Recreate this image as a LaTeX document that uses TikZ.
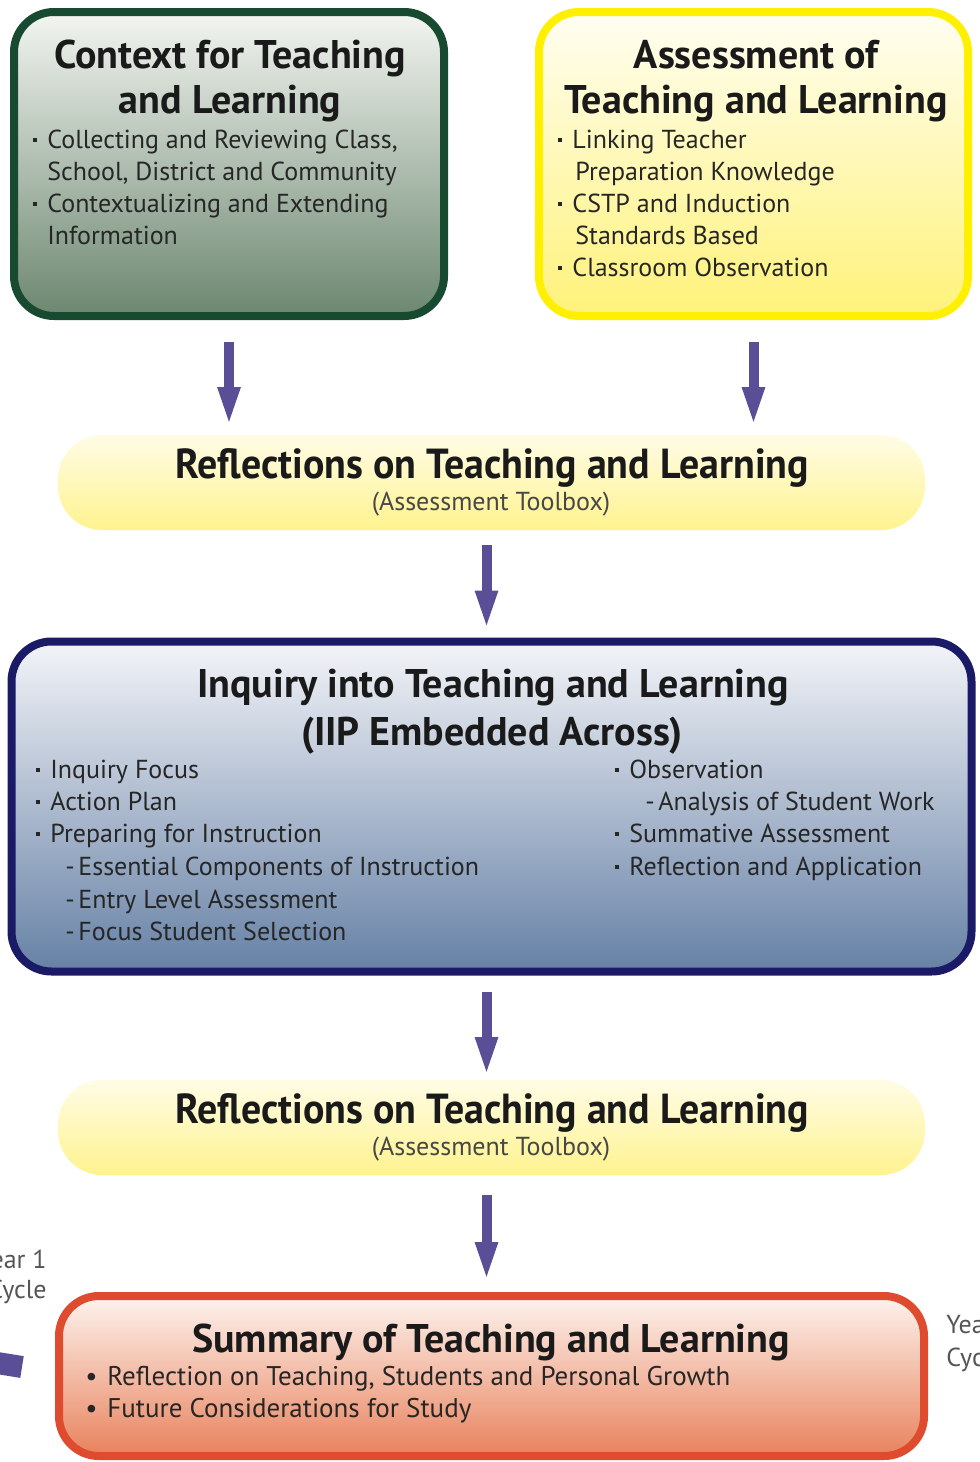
\documentclass[tikz,border=0pt]{standalone}
\usepackage{fontspec}
\setmainfont{PT Sans}
\newfontfamily\condfont{PT Sans}[FakeStretch=0.95]
\usetikzlibrary{arrows.meta}

\definecolor{ctxborder}{HTML}{174A30}
\definecolor{ctxtop}{HTML}{F3F5F1}
\definecolor{ctxbot}{HTML}{6C8770}
\definecolor{asmborder}{HTML}{FFEF00}
\definecolor{asmtop}{HTML}{FFFEF2}
\definecolor{asmbot}{HTML}{FFF27A}
\definecolor{refltop}{HTML}{FFFCE6}
\definecolor{reflbot}{HTML}{FFF38F}
\definecolor{inqborder}{HTML}{1B1A66}
\definecolor{inqtop}{HTML}{F3F4F8}
\definecolor{inqbot}{HTML}{6681A5}
\definecolor{sumborder}{HTML}{DE4B2F}
\definecolor{sumtop}{HTML}{FDF3EE}
\definecolor{sumbot}{HTML}{E8825C}
\definecolor{flowpurple}{HTML}{5A4E96}
\definecolor{titlegray}{HTML}{1A1A1A}
\definecolor{itemgray}{HTML}{262626}
\definecolor{yeargray}{HTML}{555555}

\newcommand{\bul}{\makebox[7pt][l]{\raisebox{0.25em}{\rule{1.7pt}{1.7pt}}}}
\newcommand{\dashb}{\makebox[6.5pt][l]{-}}
\newcommand{\rbul}{\makebox[11pt][l]{\textbullet}}

\tikzset{
  box/.style={rounded corners=20pt, line width=4pt, inner sep=0pt, outer sep=0pt},
  reflbox/.style={rounded corners=22pt, minimum width=433.5pt, minimum height=47.5pt,
    top color=refltop, bottom color=reflbot, inner sep=0pt, outer sep=0pt},
  flow/.style={draw=flowpurple, line width=5pt, -{Triangle[width=10pt,length=20pt]}},
  title/.style={anchor=base, inner sep=0pt, text=titlegray,
    font=\fontsize{20}{24}\selectfont\bfseries},
  refltitle/.style={anchor=base, inner sep=0pt, text=titlegray,
    font=\fontsize{21}{24}\selectfont\condfont\bfseries},
  reflsub/.style={anchor=base, inner sep=0pt, text=itemgray!85,
    font=\fontsize{13}{15}\selectfont},
  item/.style={anchor=base west, inner sep=0pt, text=itemgray,
    font=\fontsize{13}{15}\selectfont},
  yearlbl/.style={inner sep=0pt, text=yeargray, font=\fontsize{13}{15}\selectfont}
}

\begin{document}
\begin{tikzpicture}[x=0.5pt,y=-0.5pt]
  \useasboundingbox (0,0) rectangle (980,1462);
  \clip (0,0) rectangle (980,1462);

  % top row
  \node[box, draw=ctxborder, top color=ctxtop, bottom color=ctxbot,
    minimum width=215pt, minimum height=152pt] (context) at (229,164) {};
  \node[title] (ctxT1) at (230,68) {Context for Teaching};
  \node[title] (ctxT2) at (230,113) {and Learning};
  \node[item] (ctxA) at (33,148) {\bul Collecting and Reviewing Class,};
  \node[item] (ctxB) at (47,180) {School, District and Community};
  \node[item] (ctxC) at (33,212) {\bul Contextualizing and Extending};
  \node[item] (ctxD) at (47,244) {Information};

  \node[box, draw=asmborder, top color=asmtop, bottom color=asmbot,
    minimum width=214.5pt, minimum height=152pt] (assess) at (753.5,164) {};
  \node[title] (asmT1) at (756,68) {Assessment of};
  \node[title] (asmT2) at (756,113) {Teaching and Learning};
  \node[item] (asmA) at (558,148) {\bul Linking Teacher};
  \node[item] (asmB) at (575,180) {Preparation Knowledge};
  \node[item] (asmC) at (558,212) {\bul CSTP and Induction};
  \node[item] (asmD) at (575,244) {Standards Based};
  \node[item] (asmE) at (558,276) {\bul Classroom Observation};

  % first reflection
  \node[reflbox] (refl1) at (491.5,482.5) {};
  \node[refltitle] (refl1T) at (492,478) {Reflections on Teaching and Learning};
  \node[reflsub] (refl1S) at (491,510) {(Assessment Toolbox)};

  % inquiry
  \node[box, draw=inqborder, top color=inqtop, bottom color=inqbot,
    minimum width=480pt, minimum height=165pt] (inquiry) at (491.5,806.5) {};
  \node[title] (inqT1) at (493,697) {Inquiry into Teaching and Learning};
  \node[title] (inqT2) at (492,745) {(IIP Embedded Across)};
  \node[item] (inqA) at (36,778) {\bul Inquiry Focus};
  \node[item] (inqB) at (36,810) {\bul Action Plan};
  \node[item] (inqC) at (36,842) {\bul Preparing for Instruction};
  \node[item] (inqD) at (65,875) {\dashb Essential Components of Instruction};
  \node[item] (inqE) at (65,908) {\dashb Entry Level Assessment};
  \node[item] (inqF) at (65,940) {\dashb Focus Student Selection};
  \node[item] (inqG) at (615,778) {\bul Observation};
  \node[item] (inqH) at (645,810) {\dashb Analysis of Student Work};
  \node[item] (inqI) at (615,842) {\bul Summative Assessment};
  \node[item] (inqJ) at (615,875) {\bul Reflection and Application};

  % second reflection
  \node[reflbox] (refl2) at (491.5,1127.5) {};
  \node[refltitle] (refl2T) at (492,1123) {Reflections on Teaching and Learning};
  \node[reflsub] (refl2S) at (491,1155) {(Assessment Toolbox)};

  % summary
  \node[box, draw=sumborder, top color=sumtop, bottom color=sumbot,
    minimum width=432.5pt, minimum height=80pt] (summary) at (491.5,1376) {};
  \node[title] (sumT) at (491,1352) {Summary of Teaching and Learning};
  \node[item, font=\fontsize{13.5}{15}\selectfont] (sumA) at (85,1385) {\rbul Reflection on Teaching, Students and Personal Growth};
  \node[item, font=\fontsize{13.5}{15}\selectfont] (sumB) at (85,1417) {\rbul Future Considerations for Study};

  % cycle labels
  \node[yearlbl, anchor=base east] (yr1a) at (47,1268) {Year 1};
  \node[yearlbl, anchor=base east] (yr1b) at (47,1298) {Cycle};
  \node[yearlbl, anchor=base west] (yr2a) at (946,1333) {Year 2};
  \node[yearlbl, anchor=base west] (yr2b) at (946,1366) {Cycle};
  \coordinate (loopA) at (-40,1357);
  \coordinate (loopB) at (22,1367);
  \draw[flowpurple, line width=11pt] (loopA) -- (loopB);

  % arrows
  \draw[flow, shorten <=13pt, shorten >=4pt] (context.south) -- (context.south |- refl1.north);
  \draw[flow, shorten <=13pt, shorten >=4pt] (assess.south) -- (assess.south |- refl1.north);
  \draw[flow, shorten <=7.5pt, shorten >=5.5pt] ([xshift=-2.5pt]refl1.south) -- ([xshift=-2.5pt]inquiry.north);
  \draw[flow, shorten <=10pt, shorten >=1.5pt] ([xshift=-2.5pt]inquiry.south) -- ([xshift=-2.5pt]refl2.north);
  \draw[flow, shorten <=10pt, shorten >=7pt] ([xshift=-2.5pt]refl2.south) -- ([xshift=-2.5pt]summary.north);
\end{tikzpicture}
\end{document}
